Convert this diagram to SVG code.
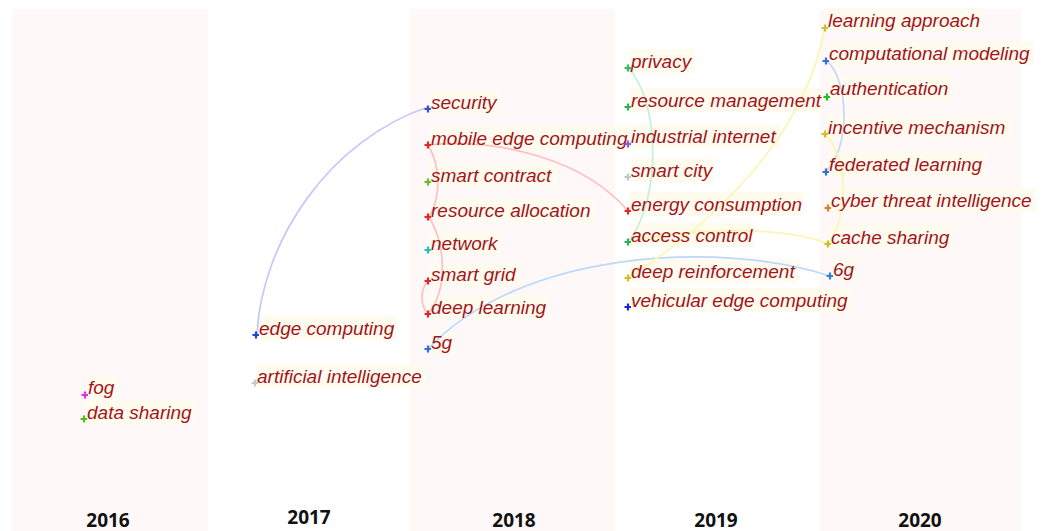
<svg xmlns="http://www.w3.org/2000/svg" width="1048" height="531" viewBox="0 0 1048 531">
  <style>
    .band { fill: #fff8f8; }
    .lbg { fill: #fffcef; }
    .lbl { font-family: "Liberation Sans", Arial, sans-serif; font-style: italic; font-size: 19px; fill: #a3141c; }
    .year { font-family: "Open Sans", "Liberation Sans", sans-serif; font-weight: 700; font-size: 19px; fill: #111; text-anchor: middle; }
    .link { fill: none; stroke-width: 1.7; stroke-linecap: round; }
    .mk { fill: none; stroke-width: 2.2; }
  </style>
  <defs>
    <path id="plus" d="M-3.5,0 H3 M0,-3.5 V3.5"/>
  </defs>

  <!-- year bands -->
  <g id="bands">
    <rect class="band" x="12" y="9" width="196" height="522"/>
    <rect class="band" x="410" y="9" width="205" height="522"/>
    <rect class="band" x="820" y="9" width="201" height="522"/>
  </g>

  <!-- label backgrounds sit under the connectors -->
  <g id="label-backgrounds" class="lbg">
    <rect x="87" y="375" width="30" height="24"/>
    <rect x="86" y="400" width="108" height="24"/>
    <rect x="258" y="316" width="139" height="24"/>
    <rect x="256" y="364" width="170" height="24"/>
    <rect x="430" y="90" width="70" height="24"/>
    <rect x="430" y="126" width="199" height="24"/>
    <rect x="430" y="163" width="126" height="24"/>
    <rect x="430" y="198" width="164" height="24"/>
    <rect x="430" y="231" width="70" height="24"/>
    <rect x="430" y="262" width="90" height="24"/>
    <rect x="430" y="295" width="120" height="24"/>
    <rect x="430" y="330" width="24" height="24"/>
    <rect x="630" y="49" width="64" height="24"/>
    <rect x="630" y="88" width="193" height="24"/>
    <rect x="630" y="124" width="150" height="24"/>
    <rect x="630" y="158" width="84" height="24"/>
    <rect x="630" y="192" width="174" height="24"/>
    <rect x="630" y="223" width="125" height="24"/>
    <rect x="630" y="259" width="169" height="24"/>
    <rect x="630" y="288" width="222" height="24"/>
    <rect x="827" y="8" width="156" height="24"/>
    <rect x="828" y="41" width="206" height="24"/>
    <rect x="829" y="76" width="123" height="24"/>
    <rect x="827" y="115" width="183" height="24"/>
    <rect x="828" y="152" width="158" height="24"/>
    <rect x="830" y="188" width="206" height="24"/>
    <rect x="830" y="225" width="122" height="24"/>
    <rect x="832" y="257" width="24" height="24"/>
  </g>

  <!-- connectors -->
  <g id="connectors">
    <path class="link" stroke="#c4c8fa" d="M257,334 C262,240 330,140 428,107"/>
    <path class="link" stroke="#ffc0c0" d="M428,145 C500,138 585,160 628,211"/>
    <path class="link" stroke="#ffc0c0" d="M428,145 C440,165 442,195 429,217"/>
    <path class="link" stroke="#ffc0c0" d="M429,217 C446,245 448,290 428,314"/>
    <path class="link" stroke="#ffc0c0" d="M428,281 C420,290 420,305 428,314"/>
    <path class="link" stroke="#bcd8fa" d="M428,349 C520,250 720,240 830,276"/>
    <path class="link" stroke="#c4f0d4" d="M628,68 C660,100 662,200 628,242"/>
    <path class="link" stroke="#fbf6b0" d="M628,278 C710,225 805,140 825,27"/>
    <path class="link" stroke="#fbf6b0" d="M628,242 C700,225 790,228 828,244"/>
    <path class="link" stroke="#c4daf8" d="M826,60 C850,80 850,150 826,171"/>
    <path class="link" stroke="#fbf6b0" d="M825,134 C850,160 848,220 828,244"/>
  </g>

  <!-- 2016 -->
  <g id="fog">
    <text class="lbl" x="88" y="394">fog</text>
    <use href="#plus" x="85" y="395" class="mk" stroke="#e030d8"/>
  </g>
  <g id="data-sharing">
    <text class="lbl" x="87" y="419">data sharing</text>
    <use href="#plus" x="84" y="419" class="mk" stroke="#50c020"/>
  </g>

  <!-- 2017 -->
  <g id="edge-computing">
    <text class="lbl" x="259" y="335">edge computing</text>
    <use href="#plus" x="256" y="335" class="mk" stroke="#2040e0"/>
  </g>
  <g id="artificial-intelligence">
    <text class="lbl" x="257" y="383">artificial intelligence</text>
    <use href="#plus" x="255" y="383" class="mk" stroke="#c8c8c8"/>
  </g>

  <!-- 2018 -->
  <g id="security">
    <text class="lbl" x="431" y="109">security</text>
    <use href="#plus" x="428" y="109" class="mk" stroke="#3050e0"/>
  </g>
  <g id="mobile-edge-computing">
    <text class="lbl" x="431" y="145">mobile edge computing</text>
    <use href="#plus" x="428" y="145" class="mk" stroke="#e02828"/>
  </g>
  <g id="smart-contract">
    <text class="lbl" x="431" y="182">smart contract</text>
    <use href="#plus" x="428" y="182" class="mk" stroke="#60c030"/>
  </g>
  <g id="resource-allocation">
    <text class="lbl" x="431" y="217">resource allocation</text>
    <use href="#plus" x="428" y="217" class="mk" stroke="#e02828"/>
  </g>
  <g id="network">
    <text class="lbl" x="431" y="250">network</text>
    <use href="#plus" x="428" y="250" class="mk" stroke="#20c0c0"/>
  </g>
  <g id="smart-grid">
    <text class="lbl" x="431" y="281">smart grid</text>
    <use href="#plus" x="428" y="281" class="mk" stroke="#e02828"/>
  </g>
  <g id="deep-learning">
    <text class="lbl" x="431" y="314">deep learning</text>
    <use href="#plus" x="428" y="314" class="mk" stroke="#e02828"/>
  </g>
  <g id="n-5g">
    <text class="lbl" x="431" y="349">5g</text>
    <use href="#plus" x="428" y="349" class="mk" stroke="#3070e0"/>
  </g>

  <!-- 2019 -->
  <g id="privacy">
    <text class="lbl" x="631" y="68">privacy</text>
    <use href="#plus" x="628" y="68" class="mk" stroke="#30c060"/>
  </g>
  <g id="resource-management">
    <text class="lbl" x="631" y="107">resource management</text>
    <use href="#plus" x="628" y="107" class="mk" stroke="#30b050"/>
  </g>
  <g id="industrial-internet">
    <text class="lbl" x="631" y="143">industrial internet</text>
    <use href="#plus" x="628" y="144" class="mk" stroke="#8060e0"/>
  </g>
  <g id="smart-city">
    <text class="lbl" x="631" y="177">smart city</text>
    <use href="#plus" x="628" y="177" class="mk" stroke="#c4c4c4"/>
  </g>
  <g id="energy-consumption">
    <text class="lbl" x="631" y="211">energy consumption</text>
    <use href="#plus" x="628" y="211" class="mk" stroke="#e02828"/>
  </g>
  <g id="access-control">
    <text class="lbl" x="631" y="242">access control</text>
    <use href="#plus" x="628" y="242" class="mk" stroke="#30b060"/>
  </g>
  <g id="deep-reinforcement">
    <text class="lbl" x="631" y="278">deep reinforcement</text>
    <use href="#plus" x="628" y="278" class="mk" stroke="#d0c020"/>
  </g>
  <g id="vehicular-edge-computing">
    <text class="lbl" x="631" y="307">vehicular edge computing</text>
    <use href="#plus" x="628" y="307" class="mk" stroke="#1828d0"/>
  </g>

  <!-- 2020 -->
  <g id="learning-approach">
    <text class="lbl" x="828" y="27">learning approach</text>
    <use href="#plus" x="825" y="28" class="mk" stroke="#d0c030"/>
  </g>
  <g id="computational-modeling">
    <text class="lbl" x="829" y="60">computational modeling</text>
    <use href="#plus" x="826" y="61" class="mk" stroke="#3070e0"/>
  </g>
  <g id="authentication">
    <text class="lbl" x="830" y="95">authentication</text>
    <use href="#plus" x="827" y="97" class="mk" stroke="#20c020"/>
  </g>
  <g id="incentive-mechanism">
    <text class="lbl" x="828" y="134">incentive mechanism</text>
    <use href="#plus" x="825" y="134" class="mk" stroke="#d0c030"/>
  </g>
  <g id="federated-learning">
    <text class="lbl" x="829" y="171">federated learning</text>
    <use href="#plus" x="826" y="172" class="mk" stroke="#3070d0"/>
  </g>
  <g id="cyber-threat-intelligence">
    <text class="lbl" x="831" y="207">cyber threat intelligence</text>
    <use href="#plus" x="828" y="208" class="mk" stroke="#e08020"/>
  </g>
  <g id="cache-sharing">
    <text class="lbl" x="831" y="244">cache sharing</text>
    <use href="#plus" x="828" y="244" class="mk" stroke="#c8c020"/>
  </g>
  <g id="n-6g">
    <text class="lbl" x="833" y="276">6g</text>
    <use href="#plus" x="830" y="276" class="mk" stroke="#3080e0"/>
  </g>

  <!-- year axis -->
  <g id="years">
    <text class="year" x="108" y="527">2016</text>
    <text class="year" x="309" y="524">2017</text>
    <text class="year" x="514" y="527">2018</text>
    <text class="year" x="716" y="527">2019</text>
    <text class="year" x="920" y="527">2020</text>
  </g>
</svg>
